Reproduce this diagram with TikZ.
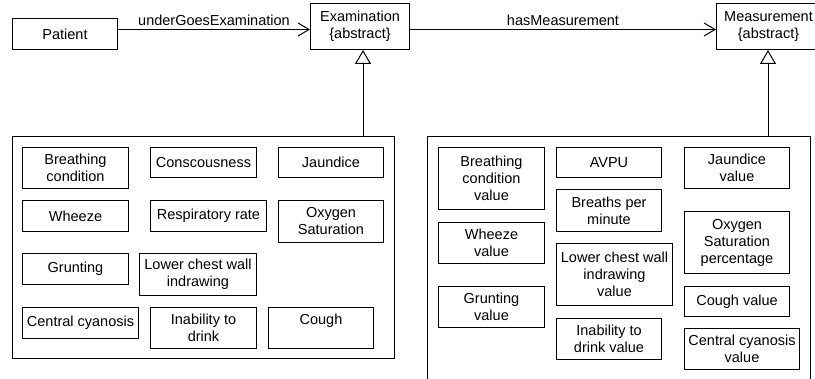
\documentclass[tikz,border=0pt]{standalone}
\usepackage{fontspec}
\setmainfont{Liberation Sans}
\usetikzlibrary{arrows.meta}

\tikzset{
  cls/.style={draw, align=center, anchor=north west, inner sep=0pt, minimum width=105, minimum height=31},
  assoc/.style={-{Straight Barb[length=11pt,width=13pt]}},
  gen/.style={-{Triangle[open,length=14pt,width=16pt]}}
}

\begin{document}
\begin{tikzpicture}[x=1pt, y=-1pt, line width=1pt, font=\fontsize{14.5}{17}\selectfont]
        \clip (0,0) rectangle (815,379);

        % Draw nodes
        \node[cls] (patient) at (12,18) {Patient};
        \node[cls, minimum width=99, minimum height=46] (exam) at (310,3) {Examination\\\{abstract\}};
        \node[cls, minimum width=104, minimum height=46] (meas) at (716,3) {Measurement\\\{abstract\}};

        % Containers
        \node[cls, minimum width=382, minimum height=222] (exams) at (12,136) {};
        \node[cls, minimum width=383, minimum height=260] (measures) at (427,136) {};

        % Examinations
        \node[cls, minimum width=106, minimum height=41] (breath) at (22,147) {Breathing\\condition};
        \node[cls, minimum width=106, minimum height=30] (consc) at (150,147) {Conscousness};
        \node[cls, minimum height=30] (jaund) at (278,147) {Jaundice};
        \node[cls, minimum width=106] (wheeze) at (22,200) {Wheeze};
        \node[cls, minimum width=116] (resp) at (150,200) {Respiratory rate};
        \node[cls, minimum height=42] (oxy) at (278,200) {Oxygen\\Saturation};
        \node[cls, minimum width=106] (grunt) at (22,253) {Grunting};
        \node[cls, minimum width=117, minimum height=42] (chest) at (139,253) {Lower chest wall\\indrawing};
        \node[cls, minimum width=116] (cyan) at (22,307) {Central cyanosis};
        \node[cls, minimum width=106, minimum height=41] (drink) at (150,307) {Inability to\\drink};
        \node[cls, minimum height=41] (cough) at (268,307) {Cough\\~};

        % Measurements
        \node[cls, minimum width=106, minimum height=62] (breathv) at (438,147) {Breathing\\condition\\value};
        \node[cls, minimum height=30] (avpu) at (556,147) {AVPU};
        \node[cls, minimum height=41] (jaundv) at (684,147) {Jaundice\\value};
        \node[cls, minimum height=42] (bpm) at (556,189) {Breaths per\\minute};
        \node[cls, minimum width=106, minimum height=41] (wheezev) at (438,222) {Wheeze\\value};
        \node[cls, minimum height=62] (oxyv) at (684,211) {Oxygen\\Saturation\\percentage};
        \node[cls, minimum width=116, minimum height=62] (chestv) at (556,243) {Lower chest wall\\indrawing\\value};
        \node[cls, minimum width=106, minimum height=41] (gruntv) at (438,286) {Grunting\\value};
        \node[cls, minimum height=30] (coughv) at (684,286) {Cough value};
        \node[cls, minimum height=41] (drinkv) at (556,318) {Inability to\\drink value};
        \node[cls, minimum width=115, minimum height=41] (cyanv) at (684,328) {Central cyanosis\\value};

        % Draw connections
        \draw[assoc] ([yshift=4.5pt]patient.east) -- ([yshift=4.5pt]patient.east -| exam.west)
            node[midway, anchor=base, yshift=3.5pt] {underGoesExamination};
        \draw[assoc] ([yshift=-3pt]exam.east) -- ([yshift=-3pt]exam.east -| meas.west)
            node[midway, anchor=base, yshift=3.5pt] {hasMeasurement};

        \coordinate (eg) at (363,136);
        \coordinate (mg) at (768,136);
        \draw[gen] (eg) -- (eg |- exam.south);
        \draw[gen] (mg) -- (mg |- meas.south);
    \end{tikzpicture}
\end{document}
